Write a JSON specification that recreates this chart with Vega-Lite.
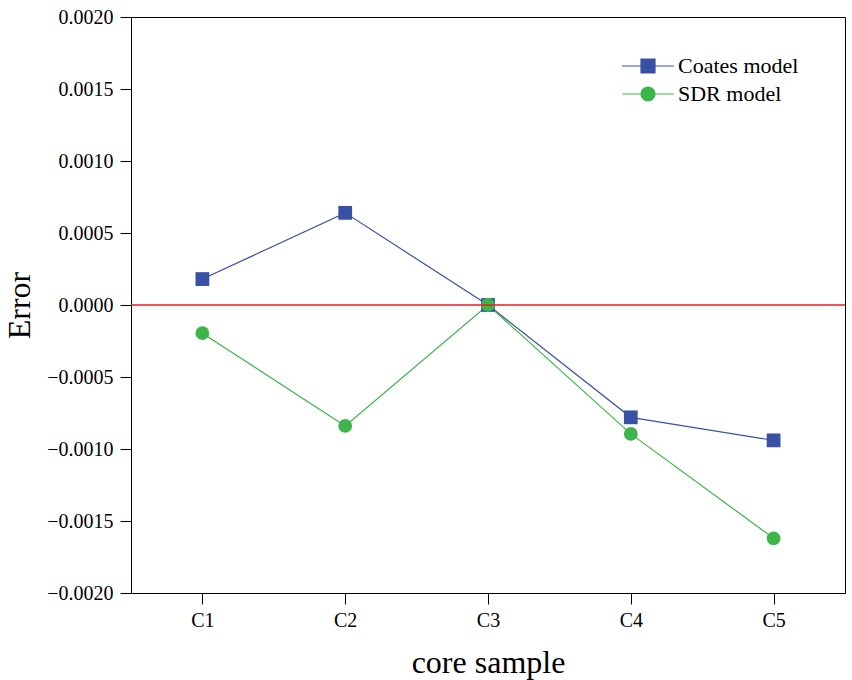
{
  "$schema": "https://vega.github.io/schema/vega-lite/v6.json",
  "width": 714,
  "height": 576,
  "autosize": {"type": "none"},
  "padding": {"left": 131, "top": 17, "right": 7, "bottom": 87},
  "background": "white",
  "config": {
    "font": "Liberation Serif",
    "view": {"stroke": "black", "strokeWidth": 1},
    "axis": {
      "grid": false,
      "domainColor": "black",
      "tickColor": "black",
      "labelColor": "black",
      "titleColor": "black",
      "labelFont": "Liberation Serif",
      "titleFont": "Liberation Serif",
      "titleFontWeight": "normal",
      "labelFontSize": 20,
      "titleFontSize": 32,
      "tickSize": 11,
      "domainWidth": 1,
      "tickWidth": 1
    }
  },
  "datasets": {
    "errors": [
      {"sample": "C1", "model": "Coates model", "error": 0.00018},
      {"sample": "C2", "model": "Coates model", "error": 0.00064},
      {"sample": "C3", "model": "Coates model", "error": 0.0},
      {"sample": "C4", "model": "Coates model", "error": -0.00078},
      {"sample": "C5", "model": "Coates model", "error": -0.00094},
      {"sample": "C1", "model": "SDR model", "error": -0.000196},
      {"sample": "C2", "model": "SDR model", "error": -0.00084},
      {"sample": "C3", "model": "SDR model", "error": 0.0},
      {"sample": "C4", "model": "SDR model", "error": -0.000895},
      {"sample": "C5", "model": "SDR model", "error": -0.00162}
    ],
    "zero": [{"error": 0}]
  },
  "layer": [
    {
      "data": {"name": "errors"},
      "mark": {"type": "line", "strokeWidth": 1.2},
      "encoding": {
        "x": {
          "field": "sample", "type": "ordinal",
          "scale": {"type": "point", "padding": 0.5},
          "axis": {"title": "core sample", "labelAngle": 0, "labelPadding": 6, "titlePadding": 17}
        },
        "y": {
          "field": "error", "type": "quantitative",
          "scale": {"domain": [-0.002, 0.002], "nice": false, "zero": false},
          "axis": {"title": "Error", "values": [-0.002, -0.0015, -0.001, -0.0005, 0, 0.0005, 0.001, 0.0015, 0.002], "format": ".4f", "labelPadding": 7, "titlePadding": 10}
        },
        "color": {
          "field": "model", "type": "nominal",
          "scale": {"domain": ["Coates model", "SDR model"], "range": ["#3A51A3", "#3DB54A"]},
          "legend": {
            "title": null,
            "orient": "none",
            "legendX": 506,
            "legendY": 38,
            "padding": 0,
            "labelFont": "Liberation Serif",
            "labelFontSize": 22,
            "labelColor": "black",
            "labelOffset": 19,
            "symbolSize": 196,
            "symbolStrokeWidth": 1.2,
            "symbolOpacity": 1,
            "rowPadding": 6,
            "encode": {
              "symbols": {
                "update": {
                  "shape": {"signal": "datum.value === 'Coates model' ? 'M-3.7,0H3.7M-1,-1H1V1H-1Z' : 'M-3.7,0H3.7M-1,0A1,1,0,1,0,1,0A1,1,0,1,0,-1,0Z'"},
                  "fill": {"scale": "color", "field": "value"},
                  "stroke": {"scale": "color", "field": "value"},
                  "strokeWidth": {"value": 1.2}
                }
              }
            }
          }
        }
      }
    },
    {
      "data": {"name": "errors"},
      "transform": [{"filter": "datum.model === 'Coates model'"}],
      "mark": {"type": "point", "filled": true, "shape": "square", "size": 190, "opacity": 1},
      "encoding": {
        "x": {"field": "sample", "type": "ordinal"},
        "y": {"field": "error", "type": "quantitative"},
        "color": {"field": "model", "type": "nominal"}
      }
    },
    {
      "data": {"name": "errors"},
      "transform": [{"filter": "datum.model === 'SDR model'"}],
      "mark": {"type": "point", "filled": true, "shape": "circle", "size": 190, "opacity": 1},
      "encoding": {
        "x": {"field": "sample", "type": "ordinal"},
        "y": {"field": "error", "type": "quantitative"},
        "color": {"field": "model", "type": "nominal"}
      }
    },
    {
      "data": {"name": "zero"},
      "mark": {"type": "rule", "color": "#ED1C24", "strokeWidth": 1.5},
      "encoding": {"y": {"field": "error", "type": "quantitative"}}
    }
  ]
}
